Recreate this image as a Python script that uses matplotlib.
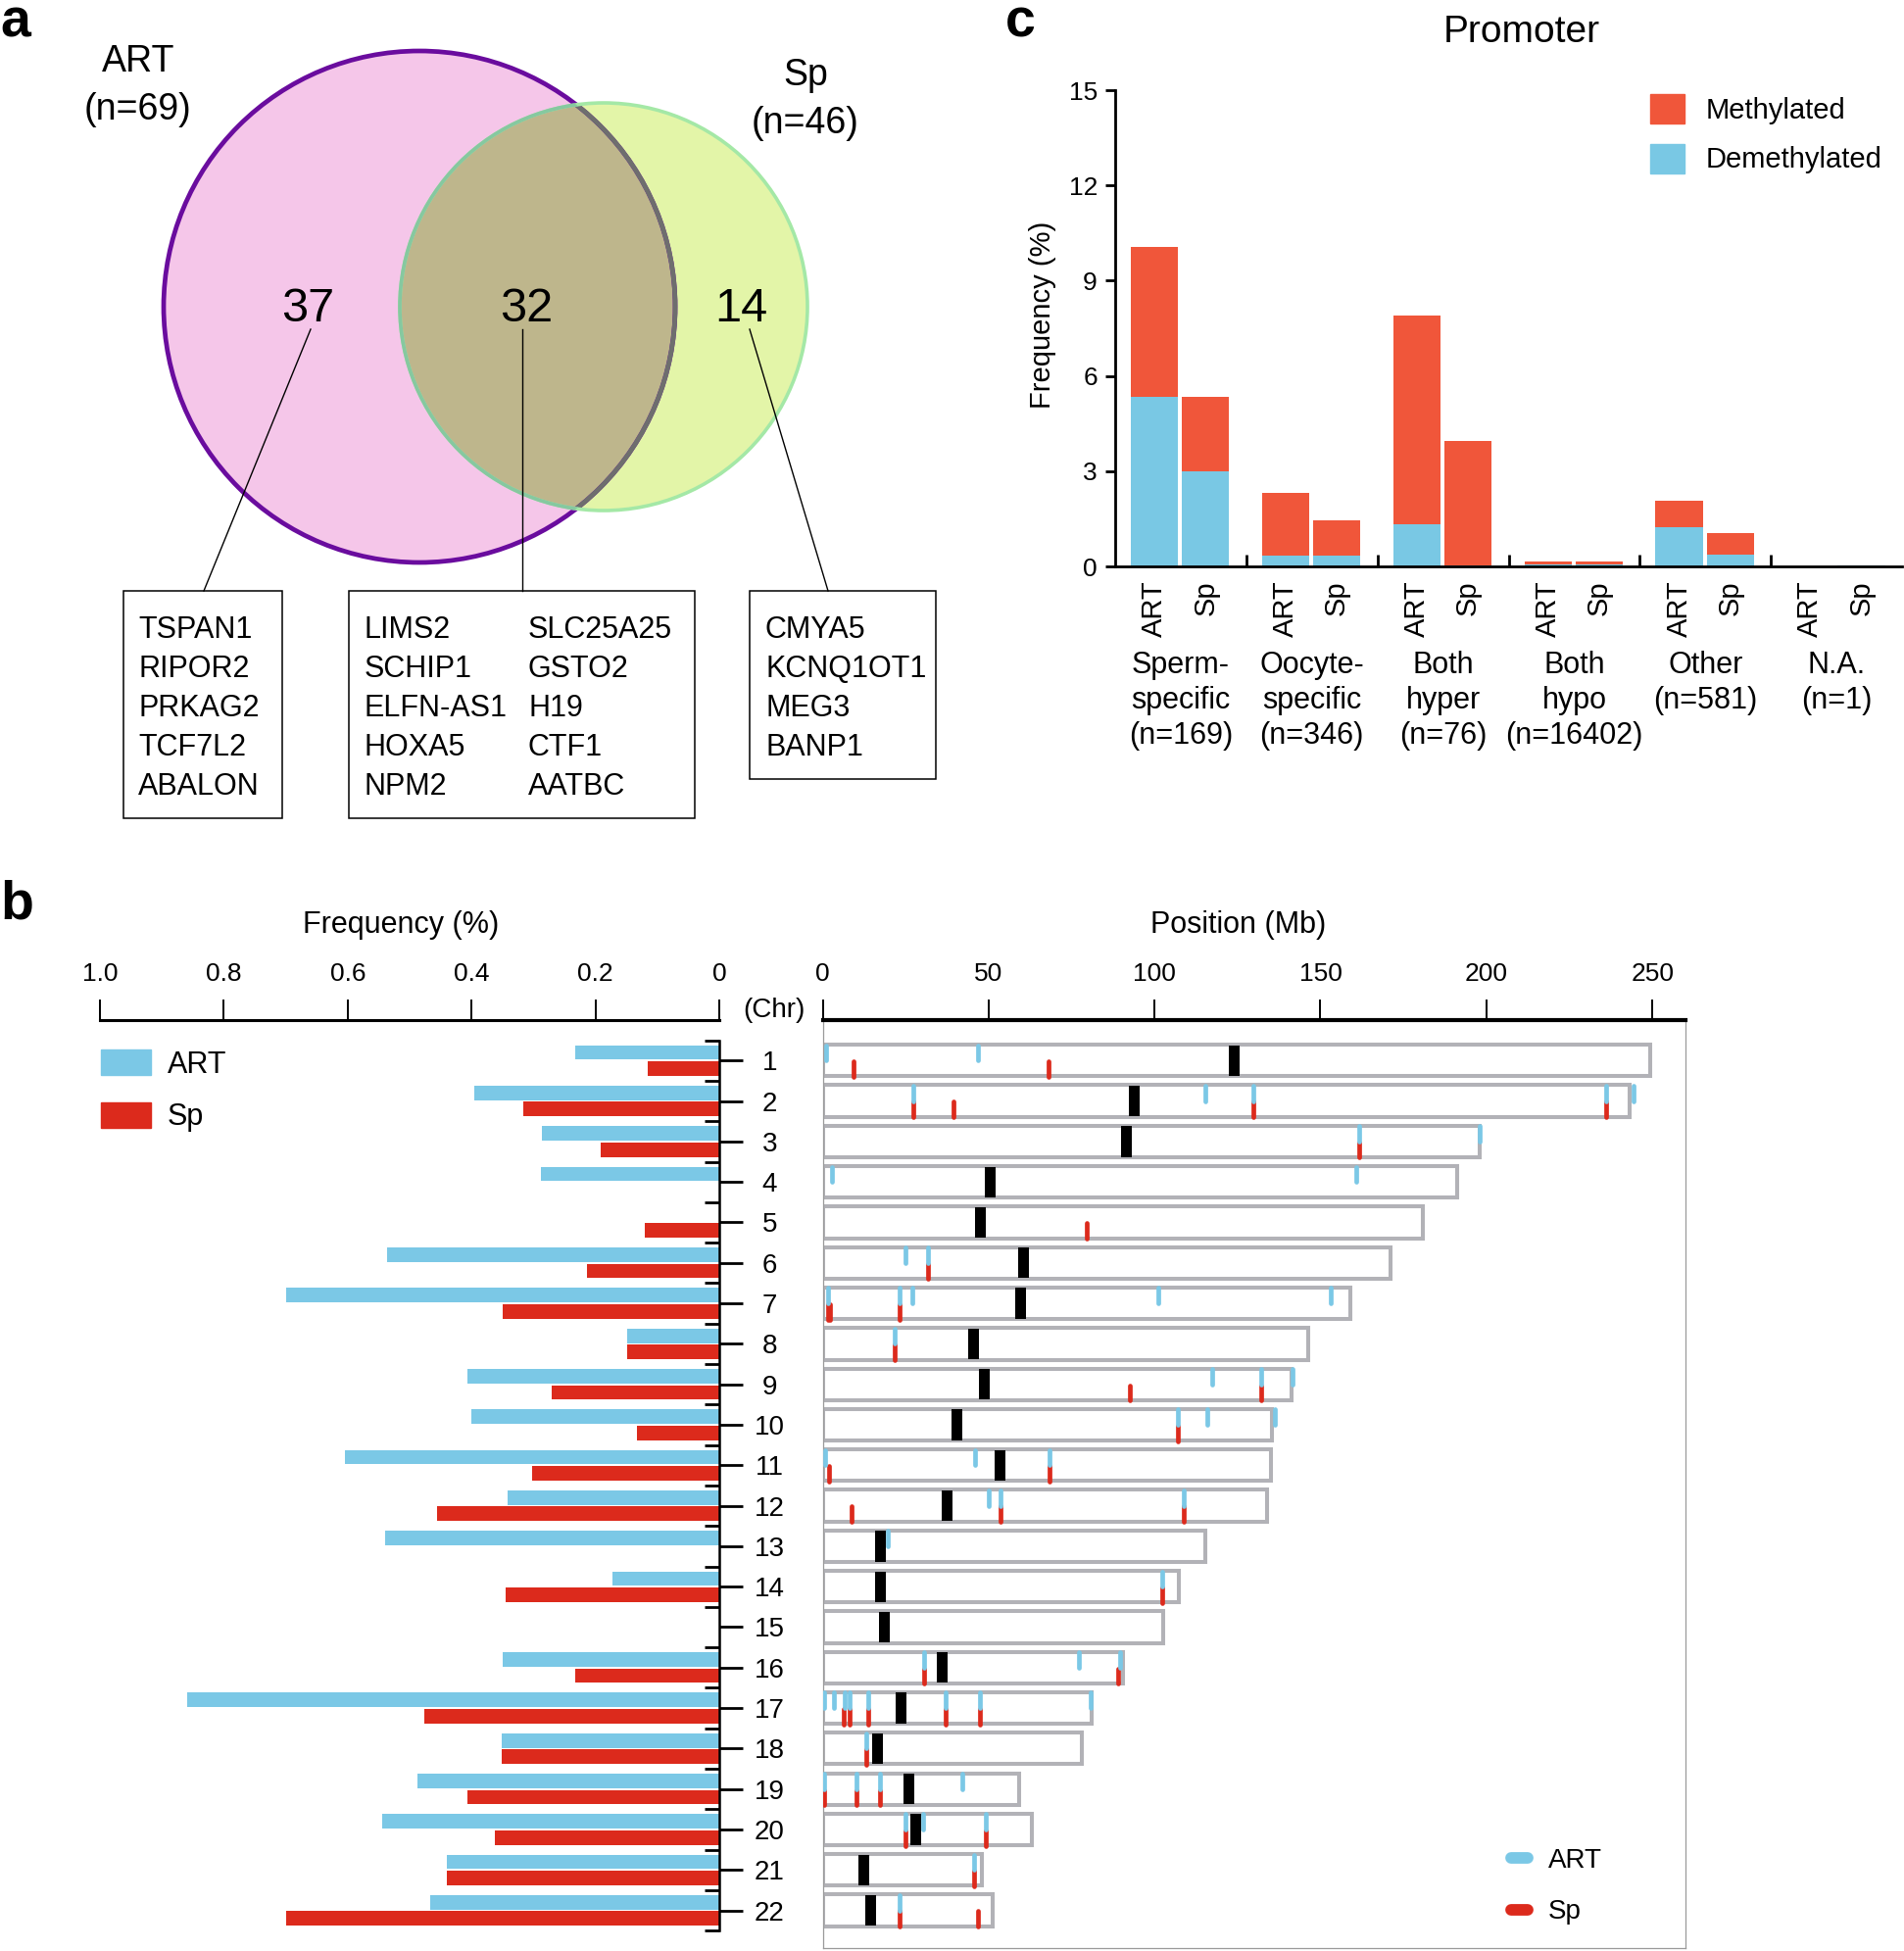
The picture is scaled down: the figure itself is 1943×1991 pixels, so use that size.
import matplotlib
matplotlib.use('Agg')
import matplotlib.pyplot as plt
import matplotlib.transforms as mtransforms
from matplotlib.patches import Circle, Rectangle
from matplotlib.lines import Line2D
import numpy as np

W, H = 1943, 1991
plt.rcParams['font.family'] = ['Liberation Sans', 'DejaVu Sans']

# ---------------- panel a: overlap of genes
art_only, shared, sp_only = 37, 32, 14
art_n, sp_n = 69, 46
art_only_genes = ['TSPAN1', 'RIPOR2', 'PRKAG2', 'TCF7L2', 'ABALON']
shared_genes = ['LIMS2', 'SCHIP1', 'ELFN-AS1', 'HOXA5', 'NPM2',
                'SLC25A25', 'GSTO2', 'H19', 'CTF1', 'AATBC']
sp_only_genes = ['CMYA5', 'KCNQ1OT1', 'MEG3', 'BANP1']

# ---------------- panel b: per-chromosome frequency and site positions
chroms = list(range(1, 23))
art_freq = [0.232, 0.395, 0.286, 0.288, 0.0, 0.537, 0.700, 0.148, 0.406, 0.400, 0.605,
            0.342, 0.540, 0.173, 0.0, 0.349, 0.859, 0.351, 0.487, 0.545, 0.440, 0.467]
sp_freq = [0.116, 0.316, 0.191, 0.0, 0.121, 0.214, 0.350, 0.148, 0.270, 0.133, 0.303,
           0.455, 0.0, 0.345, 0.0, 0.233, 0.477, 0.351, 0.406, 0.363, 0.440, 0.700]
chrom_len = [249.3, 243.2, 198.0, 191.2, 180.9, 171.1, 159.1, 146.4, 141.2, 135.5, 135.0,
             133.9, 115.2, 107.3, 102.5, 90.4, 81.2, 78.1, 59.1, 63.0, 48.1, 51.3]
centromere = [124.0, 94.0, 91.5, 50.5, 47.5, 60.5, 59.7, 45.5, 48.7, 40.5, 53.5,
              37.5, 17.5, 17.3, 18.5, 36.0, 23.5, 16.6, 26.0, 28.0, 12.5, 14.5]
art_sites = {
    1: [1.0, 46.7], 2: [27.3, 115.3, 129.8, 236.0, 244.3], 3: [161.6, 198.0],
    4: [2.9, 160.7], 6: [24.9, 31.6], 7: [1.7, 23.3, 27.1, 101.0, 153.0],
    8: [21.6], 9: [117.5, 132.2, 141.5], 10: [106.9, 116.0, 136.4],
    11: [0.7, 46.0, 68.3], 12: [50.1, 53.7, 108.9], 13: [19.7], 14: [102.4],
    16: [30.7, 77.2, 89.7], 17: [0.3, 3.4, 6.7, 8.2, 13.7, 37.2, 47.5, 80.8],
    18: [13.2], 19: [0.3, 10.3, 17.3, 42.0], 20: [24.9, 30.4, 49.1],
    21: [45.5], 22: [23.3],
}
sp_sites = {
    1: [9.3, 68.1], 2: [27.3, 39.5, 129.8, 236.0], 3: [161.6], 5: [79.6],
    6: [31.6], 7: [1.7, 2.3, 23.3], 8: [21.6], 9: [92.5, 132.2], 10: [106.9],
    11: [1.9, 68.3], 12: [8.7, 53.7, 108.9], 14: [102.2], 16: [30.7, 88.9],
    17: [6.3, 8.2, 13.7, 37.2, 47.5], 18: [13.2], 19: [0.3, 10.3, 17.3],
    20: [24.9, 49.1], 21: [45.5], 22: [23.3, 46.7],
}

# ---------------- panel c: promoter frequency
groups = ['Sperm-\nspecific\n(n=169)', 'Oocyte-\nspecific\n(n=346)', 'Both\nhyper\n(n=76)',
          'Both\nhypo\n(n=16402)', 'Other\n(n=581)', 'N.A.\n(n=1)']
art_demeth = [5.34, 0.33, 1.32, 0.06, 1.23, 0.0]
art_meth = [4.73, 1.99, 6.59, 0.10, 0.83, 0.0]
sp_demeth = [2.98, 0.33, 0.03, 0.05, 0.36, 0.03]
sp_meth = [2.36, 1.12, 3.92, 0.09, 0.70, 0.0]

BLUE_B, RED_B = '#7BC8E6', '#DC2A1C'
BLUE_C, RED_C = '#79C8E4', '#F0563A'


def px_box(left, top, right, bottom):
    """Axes rectangle in figure fraction from pixel edges (y down)."""
    return [left / W, 1 - bottom / H, (right - left) / W, (bottom - top) / H]


fig = plt.figure(figsize=(W / 100, H / 100), dpi=100)


def fig_text(x, y, s, **kw):
    fig.text(x / W, 1 - y / H, s, **kw)


# panel letters
for letter, (x, y) in zip('abc', [(0, 38), (0, 938), (1026, 38)]):
    fig_text(x, y, letter, fontsize=40, fontweight='bold', ha='left', va='baseline')

# ================= panel a
ax_a = fig.add_axes(px_box(0, 0, 1000, 860))
ax_a.set_xlim(0, 1000)
ax_a.set_ylim(860, 0)
ax_a.axis('off')

art_c = Circle((428, 313), 261, facecolor='#F5C6E9', edgecolor='none', zorder=1)
sp_c = Circle((616, 313), 208, facecolor='#E3F5A8', edgecolor='none', zorder=1)
ax_a.add_patch(art_c)
ax_a.add_patch(sp_c)
overlap = Circle((616, 313), 208, facecolor='#BEB68C', edgecolor='none', zorder=2)
ax_a.add_patch(overlap)
overlap.set_clip_path(art_c)

art_edge = Circle((428, 313), 261, fill=False, edgecolor='#6A0C9E', lw=3.4, zorder=3)
ax_a.add_patch(art_edge)
art_edge_in = Circle((428, 313), 261, fill=False, edgecolor='#6E6E6E', lw=3.4, zorder=4)
ax_a.add_patch(art_edge_in)
art_edge_in.set_clip_path(sp_c)
sp_edge = Circle((616, 313), 208, fill=False, edgecolor='#A4E8A6', lw=2.6, zorder=5)
ax_a.add_patch(sp_edge)
sp_edge_in = Circle((616, 313), 208, fill=False, edgecolor='#86C8A0', lw=2.6, zorder=6)
ax_a.add_patch(sp_edge_in)
sp_edge_in.set_clip_path(art_c)

ax_a.text(141, 73, 'ART', fontsize=27, ha='center', va='baseline', zorder=7)
ax_a.text(141, 122, f'(n={art_n})', fontsize=27, ha='center', va='baseline', zorder=7)
ax_a.text(822, 87, 'Sp', fontsize=27, ha='center', va='baseline', zorder=7)
ax_a.text(822, 136, f'(n={sp_n})', fontsize=27, ha='center', va='baseline', zorder=7)

for cx, val in zip([314, 537, 756], [art_only, shared, sp_only]):
    ax_a.text(cx, 328, str(val), fontsize=35, ha='center', va='baseline', zorder=7)

# leader lines and gene boxes
ax_a.plot([317, 208], [336, 603], color='black', lw=1, zorder=7)
ax_a.plot([533, 533], [336, 603], color='black', lw=1, zorder=7)
ax_a.plot([765, 845], [336, 603], color='black', lw=1, zorder=7)
for left, right, bottom in [(126, 288, 835), (356, 709, 835), (765, 955, 795)]:
    ax_a.add_patch(Rectangle((left, 603), right - left, bottom - 603,
                             fill=False, edgecolor='black', lw=1.1, zorder=7))


def gene_column(x, names):
    for i, name in enumerate(names):
        ax_a.text(x, 651 + 40 * i, name, fontsize=22, ha='left', va='baseline', zorder=7)


gene_column(141, art_only_genes)
gene_column(372, shared_genes[:5])
gene_column(539, shared_genes[5:])
gene_column(781, sp_only_genes)

# ================= panel b, left: frequency bars
y = np.array(chroms)
ax_f = fig.add_axes(px_box(102, 1041, 734, 1988))
ax_f.barh(y - 0.2, art_freq, height=0.36, color=BLUE_B)
ax_f.barh(y + 0.2, sp_freq, height=0.36, color=RED_B)
ax_f.set_xlim(1.0, 0)
ax_f.set_ylim(22.93, 0)
ax_f.xaxis.tick_top()
ax_f.set_xticks([1.0, 0.8, 0.6, 0.4, 0.2, 0])
ax_f.set_xticklabels(['1.0', '0.8', '0.6', '0.4', '0.2', '0'])
ax_f.tick_params(axis='x', direction='out', length=15, width=1.4, pad=10, labelsize=19)
ax_f.spines['left'].set_visible(False)
ax_f.spines['bottom'].set_visible(False)
ax_f.spines['top'].set_linewidth(2.2)
ax_f.spines['right'].set_linewidth(1.8)
ax_f.spines['right'].set_bounds(0.5, 22.5)
ax_f.yaxis.tick_right()
ax_f.set_yticks(y)
ax_f.set_yticklabels([])
ax_f.set_yticks(np.arange(0.5, 23), minor=True)
ax_f.tick_params(axis='y', which='major', direction='out', length=17, width=2)
ax_f.tick_params(axis='y', which='minor', direction='in', length=11, width=2)

trans = mtransforms.blended_transform_factory(ax_f.transAxes, ax_f.transData)
for c in chroms:
    ax_f.text(1.081, c, str(c), transform=trans, ha='center', va='center_baseline',
              fontsize=20, clip_on=False)

ax_f.legend([Rectangle((0, 0), 1, 1, color=BLUE_B), Rectangle((0, 0), 1, 1, color=RED_B)],
            ['ART', 'Sp'], loc='upper left', bbox_to_anchor=(103 / W, 1 - 1071 / H),
            bbox_transform=fig.transFigure, frameon=False, fontsize=22,
            handlelength=1.67, handleheight=0.95, handletextpad=0.55, labelspacing=0.75,
            borderpad=0, borderaxespad=0)

fig_text(409, 952, 'Frequency (%)', fontsize=22, ha='center', va='baseline')
fig_text(1264, 952, 'Position (Mb)', fontsize=22, ha='center', va='baseline')
fig_text(790, 1031, '(Chr)', fontsize=20, ha='center', va='center')

# ================= panel b, right: chromosome map
ax_m = fig.add_axes(px_box(839.5, 1041, 1720, 1988))
ax_m.barh(y, chrom_len, height=0.78, left=0, facecolor='white',
          edgecolor='#B2B2B7', linewidth=2.9, zorder=1)
ax_m.bar(centromere, [0.76] * len(chroms), width=3.2, bottom=y - 0.38,
         color='black', zorder=2)
for c in chroms:
    xs = sp_sites.get(c, [])
    if xs:
        ax_m.vlines(xs, c + 0.02, c + 0.40, colors=RED_B, linewidth=3.4,
                    capstyle='round', zorder=3)
    xs = art_sites.get(c, [])
    if xs:
        ax_m.vlines(xs, c - 0.38, c + 0.0, colors=BLUE_B, linewidth=3.4,
                    capstyle='round', zorder=4)

ax_m.set_xlim(0, 260)
ax_m.set_ylim(22.93, 0)
ax_m.xaxis.tick_top()
ax_m.set_xticks([0, 50, 100, 150, 200, 250])
ax_m.tick_params(axis='x', direction='out', length=15, width=1.4, pad=10, labelsize=19)
ax_m.set_yticks([])
ax_m.spines['top'].set_linewidth(3)
for side in ['left', 'right', 'bottom']:
    ax_m.spines[side].set_color('#9A9A9A')
    ax_m.spines[side].set_linewidth(0.9)

ax_m.legend([Line2D([], [], color=BLUE_B, lw=8.5, solid_capstyle='round'),
             Line2D([], [], color=RED_B, lw=8.5, solid_capstyle='round')],
            ['ART', 'Sp'], loc='upper left', bbox_to_anchor=(1542 / W, 1 - 1886 / H),
            bbox_transform=fig.transFigure, frameon=False, fontsize=20,
            handlelength=0.6, handletextpad=0.75, labelspacing=0.95,
            borderpad=0, borderaxespad=0)

# ================= panel c: promoter bars
ax_c = fig.add_axes(px_box(1138, 92, 1941, 578))
g = np.arange(len(groups))
art_x = g + 0.30
sp_x = g + 0.69
ax_c.bar(art_x, art_demeth, width=0.36, color=BLUE_C)
ax_c.bar(art_x, art_meth, width=0.36, bottom=art_demeth, color=RED_C)
ax_c.bar(sp_x, sp_demeth, width=0.36, color=BLUE_C)
ax_c.bar(sp_x, sp_meth, width=0.36, bottom=sp_demeth, color=RED_C)
ax_c.set_xlim(0, len(groups))
ax_c.set_ylim(0, 15)
ax_c.set_yticks(range(0, 16, 3))
ax_c.set_xticks(range(1, len(groups)))
ax_c.set_xticklabels([])
ax_c.tick_params(axis='x', direction='in', length=9, width=2)
ax_c.tick_params(axis='y', direction='out', length=7, width=2, labelsize=19, pad=6)
ax_c.spines['top'].set_visible(False)
ax_c.spines['right'].set_visible(False)
ax_c.spines['left'].set_linewidth(2)
ax_c.spines['bottom'].set_linewidth(2)

xt = ax_c.get_xaxis_transform()
for xa, xs in zip(art_x, sp_x):
    ax_c.text(xa, -0.029, 'ART', transform=xt, rotation=90, ha='center', va='top', fontsize=21)
    ax_c.text(xs, -0.029, 'Sp', transform=xt, rotation=90, ha='center', va='top', fontsize=21)
for gi, label in enumerate(groups):
    ax_c.text(gi + 0.5, -0.176, label, transform=xt, ha='center', va='top',
              fontsize=22, linespacing=1.27)

ax_c.text(-0.092, 0.529, 'Frequency (%)', transform=ax_c.transAxes, rotation=90,
          ha='center', va='center', fontsize=21)
fig_text(1553, 43, 'Promoter', fontsize=28, ha='center', va='baseline')

ax_c.legend([Rectangle((0, 0), 1, 1, color=RED_C), Rectangle((0, 0), 1, 1, color=BLUE_C)],
            ['Methylated', 'Demethylated'], loc='upper left',
            bbox_to_anchor=(1684 / W, 1 - 96 / H), bbox_transform=fig.transFigure,
            frameon=False, fontsize=21, handlelength=1.2, handleheight=1.2,
            handletextpad=0.75, labelspacing=0.68, borderpad=0, borderaxespad=0)

fig.savefig('out.png', dpi=100)
